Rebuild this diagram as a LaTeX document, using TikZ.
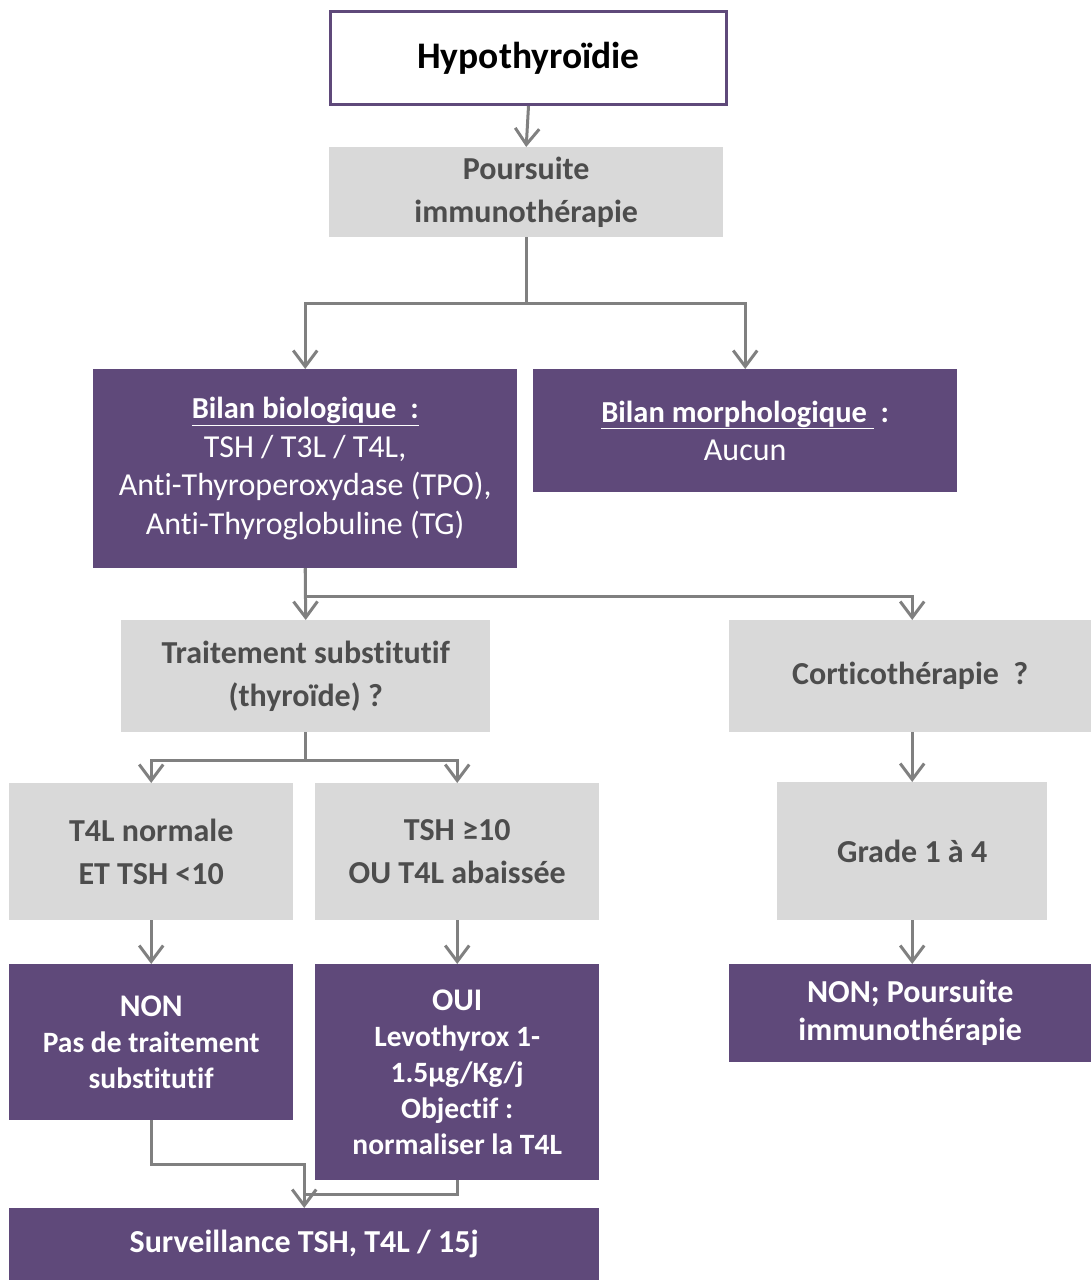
\documentclass[tikz,border=0pt]{standalone}
\usepackage{fontspec}
\setmainfont[Ligatures=NoCommon]{Carlito}
\usetikzlibrary{arrows.meta,calc}
\definecolor{purp}{HTML}{5F497A}
\definecolor{lgray}{HTML}{D9D9D9}
\definecolor{tgray}{HTML}{4D4D4D}
\definecolor{agray}{HTML}{808080}
\begin{document}
\begin{tikzpicture}[x=1pt,y=-1pt,
  base/.style={anchor=north west, inner sep=0pt, align=center},
  gbox/.style={base, fill=lgray, text=tgray, font=\fontsize{32}{43}\selectfont\bfseries},
  pbox/.style={base, fill=purp, text=white},
  conn/.style={draw=agray, line width=3pt, -{Straight Barb[length=16pt,width=24pt,line width=3pt]}},
  plain/.style={draw=agray, line width=3pt}]
\useasboundingbox (0,0) rectangle (1091,1280);

\node[base, draw=purp, line width=3pt, fill=white, minimum width=396pt, minimum height=93pt,
  font=\fontsize{37.5}{42}\selectfont\bfseries] (hypo) at (329,10) {Hypothyroïdie};

\node[gbox, minimum width=394pt, minimum height=90pt] (pours) at (329,147)
  {Poursuite\\immunothérapie};

\node[pbox, minimum width=424pt, minimum height=199pt, font=\fontsize{32}{38.5}\selectfont] (bio) at (93,369)
  {{\fontsize{30.5}{38.5}\selectfont\textbf{\underline{Bilan biologique\ \ :}}}\\TSH / T3L / T4L,\\Anti-Thyroperoxydase (TPO),\\Anti-Thyroglobuline (TG)};

\node[pbox, minimum width=424pt, minimum height=123pt, font=\fontsize{32}{38.5}\selectfont] (morph) at (533,369)
  {{\fontsize{30.5}{38.5}\selectfont\textbf{\underline{Bilan morphologique\ }\ :}}\\Aucun};

\node[gbox, minimum width=369pt, minimum height=112pt] (trait) at (121,620)
  {Traitement substitutif\\(thyroïde) ?};

\node[gbox, minimum width=362pt, minimum height=112pt] (cortico) at (729,620)
  {Corticothérapie\ \ ?};

\node[gbox, minimum width=284pt, minimum height=137pt] (t4l) at (9,783)
  {T4L normale\\ET TSH <10};

\node[gbox, minimum width=284pt, minimum height=137pt] (tsh) at (315,783)
  {TSH ≥10\\OU T4L abaissée};

\node[gbox, minimum width=270pt, minimum height=138pt] (grade) at (777,782)
  {Grade 1 à 4};

\node[pbox, minimum width=284pt, minimum height=156pt, font=\fontsize{29.5}{36}\selectfont\bfseries] (non) at (9,964)
  {{\fontsize{31.5}{36}\selectfont NON}\\Pas de traitement\\substitutif};

\node[pbox, minimum width=284pt, minimum height=216pt, font=\fontsize{29.5}{36}\selectfont\bfseries] (oui) at (315,964)
  {{\fontsize{31.5}{36}\selectfont OUI}\\Levothyrox 1-\\1.5µg/Kg/j\\Objectif :\\normaliser la T4L};

\node[pbox, minimum width=362pt, minimum height=98pt, font=\fontsize{32}{38}\selectfont\bfseries] (nonp) at (729,964)
  {NON; Poursuite\\immunothérapie};

\node[pbox, minimum width=590pt, minimum height=72pt, font=\fontsize{32}{38}\selectfont\bfseries] (surv) at (9,1208)
  {Surveillance TSH, T4L / 15j};

% connectors
\draw[conn] (hypo.south) -- (pours.north);
\draw[conn] (pours.south) -- ++(0,66) -| (bio.north);
\draw[conn] (pours.south) -- ++(0,66) -| (morph.north);
\draw[conn] (bio.south) -- (trait.north);
\draw[conn] (bio.south) -- ++(0,28) -| (grade.north |- cortico.north);
\draw[conn] (trait.south) -- ++(0,28) -| (t4l.north);
\draw[conn] (trait.south) -- ++(0,28) -| (tsh.north);
\draw[conn] (grade.north |- cortico.south) -- (grade.north);
\draw[conn] (t4l.south) -- (non.north);
\draw[conn] (tsh.south) -- (oui.north);
\draw[conn] (grade.south) -- (grade.south |- nonp.north);
\draw[conn] (non.south) -- ++(0,44) -| (surv.north);
\coordinate (joinoui) at ($(surv.north)+(0,-14)$);
\draw[plain] (oui.south) |- (joinoui);
\end{tikzpicture}
\end{document}
